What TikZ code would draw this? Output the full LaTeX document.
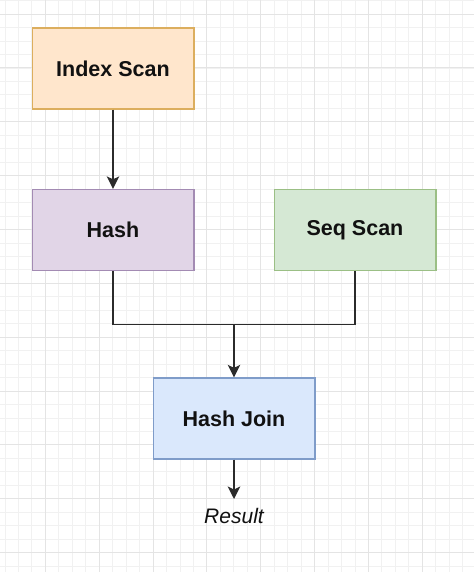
\documentclass[tikz,border=0pt]{standalone}
\usepackage{fontspec}
\setmainfont{Liberation Sans}
\usetikzlibrary{arrows.meta}
\definecolor{minorgrid}{HTML}{F1F1F1}
\definecolor{majorgrid}{HTML}{E4E4E4}
\definecolor{orfill}{HTML}{FFE6CC}
\definecolor{ordraw}{HTML}{DCAE5E}
\definecolor{pufill}{HTML}{E1D5E7}
\definecolor{pudraw}{HTML}{A38BB3}
\definecolor{grfill}{HTML}{D5E8D4}
\definecolor{grdraw}{HTML}{9BBF85}
\definecolor{blfill}{HTML}{DAE8FC}
\definecolor{bldraw}{HTML}{7F9CC9}
\definecolor{linecol}{HTML}{2B2B2B}
\definecolor{textcol}{HTML}{111111}
\tikzset{
  opbox/.style={draw, line width=1.5pt, minimum width=161.5pt, minimum height=80.8pt,
    inner sep=0pt, text=textcol, font=\fontsize{21.5}{24}\selectfont\bfseries},
  conn/.style={draw=linecol, line width=1.5pt},
  arr/.style={conn, -{Stealth[length=12.5pt,width=12.5pt,inset=3pt]}},
}
\begin{document}
\begin{tikzpicture}[x=1pt,y=-1pt]
\useasboundingbox (0,0) rectangle (474,572);
\fill[white] (0,0) rectangle (474,572);
% grid
\foreach \i in {-4,...,32} {
  \draw[minorgrid, line width=0.9pt] ({45.4+\i*13.46},0) -- ({45.4+\i*13.46},572);
}
\foreach \j in {-6,...,38} {
  \draw[minorgrid, line width=0.9pt] (0,{68+\j*13.46}) -- (474,{68+\j*13.46});
}
\foreach \i in {-1,...,8} {
  \draw[majorgrid, line width=1pt] ({45.4+\i*53.84},0) -- ({45.4+\i*53.84},572);
}
\foreach \j in {-2,...,10} {
  \draw[majorgrid, line width=1pt] (0,{68+\j*53.84}) -- (474,{68+\j*53.84});
}
% nodes
\node[opbox, fill=orfill, draw=ordraw] (idx) at (113,68.5) {Index Scan};
\node[opbox, fill=pufill, draw=pudraw] (hash) at (113,230) {Hash};
\node[opbox, fill=grfill, draw=grdraw] (seq) at (355,230) {Seq Scan};
\node[opbox, fill=blfill, draw=bldraw] (hj) at (234,418.5) {Hash Join};
\node[text=textcol, font=\fontsize{21}{24}\selectfont\itshape] (res) at (234,516) {Result};
\coordinate (junc) at (234,324.5);
\coordinate (resend) at (234,499);
% connectors
\draw[arr] (idx.south) -- (hash.north);
\draw[conn] (hash.south) -- (hash.south |- junc) -- (seq.south |- junc) -- (seq.south);
\draw[arr] (junc) -- (hj.north);
\draw[arr] (hj.south) -- (resend);
\end{tikzpicture}
\end{document}
